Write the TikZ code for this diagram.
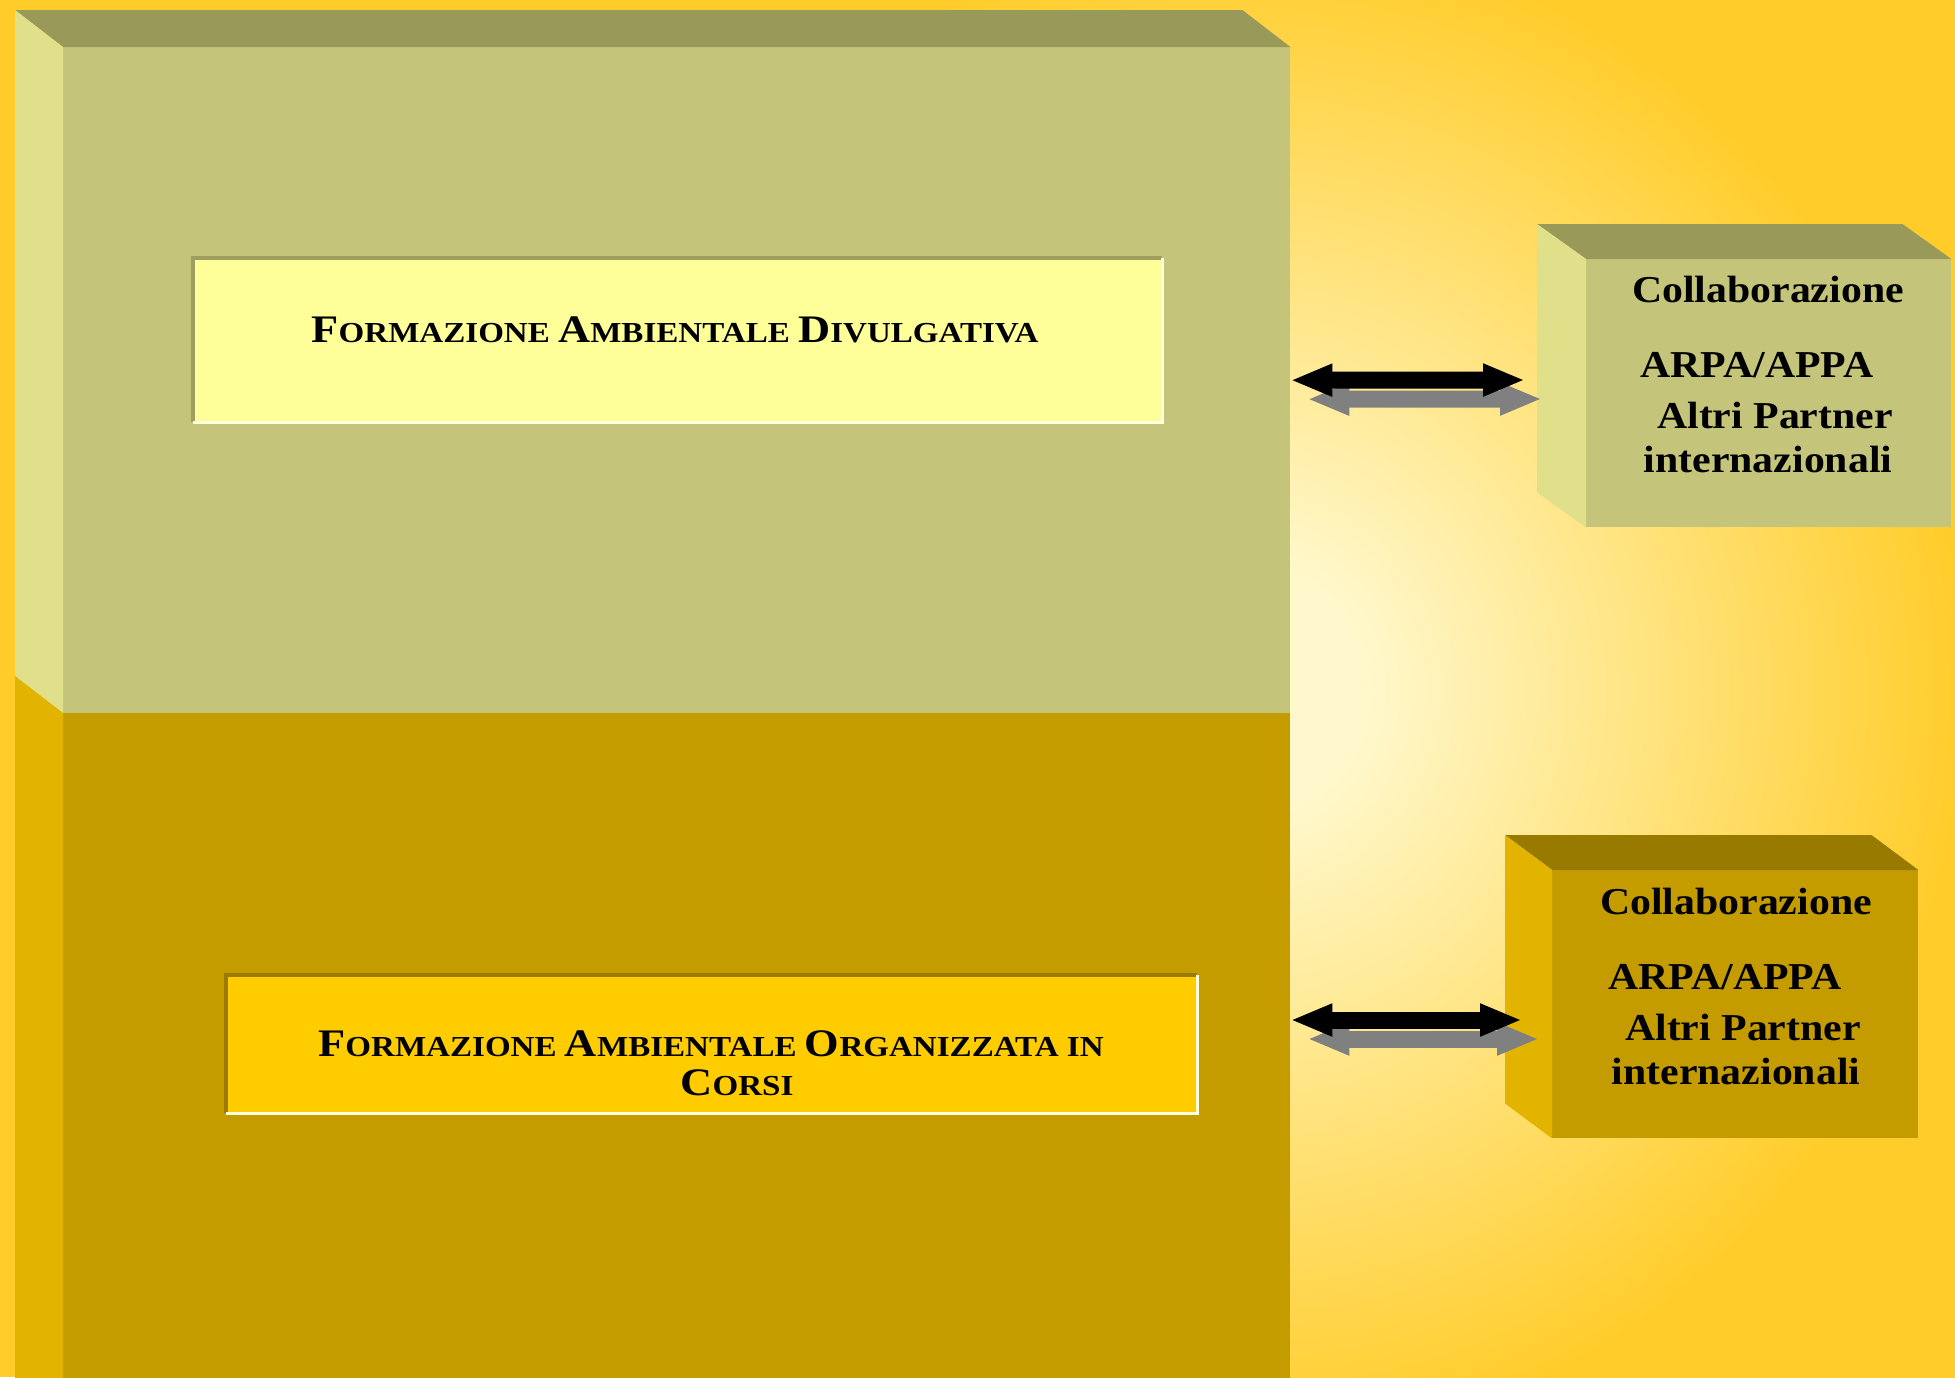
\documentclass[tikz,border=0pt]{standalone}
\usepackage{fontspec}
\setmainfont{Liberation Serif}[FakeStretch=1.1]
\newfontfamily\titlefont{Liberation Serif}[FakeStretch=1.14]
\usetikzlibrary{arrows.meta}
\definecolor{gold}{RGB}{255,204,41}
\definecolor{cream}{RGB}{255,248,204}
\definecolor{olivefront}{RGB}{196,196,122}
\definecolor{olivetop}{RGB}{153,153,89}
\definecolor{oliveside}{RGB}{224,224,138}
\definecolor{ochrefront}{RGB}{196,156,0}
\definecolor{ochretop}{RGB}{153,122,0}
\definecolor{ochreside}{RGB}{226,180,0}
\definecolor{paleyellow}{RGB}{255,255,153}
\definecolor{paleedge}{RGB}{158,158,94}
\definecolor{brightyellow}{RGB}{255,204,0}
\definecolor{brightedge}{RGB}{154,122,0}
\definecolor{lightedge}{RGB}{255,255,225}
\definecolor{shadowgray}{RGB}{128,128,128}
\pgfdeclareradialshading{bgglow}{\pgfpoint{0bp}{0bp}}{color(0bp)=(cream); color(4bp)=(cream); color(25bp)=(gold); color(50bp)=(gold)}
\newcommand\bigc[1]{{\fontsize{39}{39}\selectfont #1}}
\tikzset{
  frontface/.style={rectangle, draw=none, inner sep=0pt, anchor=north west},
  textbox/.style={rectangle, draw=none, inner sep=0pt, anchor=north west},
  titletext/.style={inner sep=0pt, align=center, text=black,
    font=\titlefont\bfseries\fontsize{29}{39}\selectfont},
  collabtext/.style={inner sep=0pt, align=center, text=black, anchor=north,
    font=\bfseries\fontsize{38}{44}\selectfont},
  linkarrow/.style={line width=17pt, {Triangle[length=42pt,width=30pt]}-{Triangle[length=42pt,width=30pt]}},
  blackarrow/.style={linkarrow, draw=black},
  grayarrow/.style={linkarrow, draw=shadowgray},
}
\begin{document}
\begin{tikzpicture}[x=1pt,y=-1pt]
\useasboundingbox (0,0) rectangle (1955,1377);
% background
\begin{scope}
  \clip (0,0) rectangle (1955,1377);
  \fill[gold] (0,0) rectangle (1955,1377);
  \shade[shading=bgglow] (530,-70) rectangle (1970,1450);
\end{scope}

% main block fronts
\node[frontface, fill=olivefront, minimum width=1227pt, minimum height=666pt] (upfront) at (63,47) {};
\node[frontface, fill=ochrefront, minimum width=1227pt, minimum height=680pt] (lowfront) at (63,713) {};
% top face
\fill[olivetop] (upfront.north west) -- ([shift={(-48,-37)}]upfront.north west)
  -- ([shift={(-48,-37)}]upfront.north east) -- (upfront.north east) -- cycle;
% left faces
\fill[oliveside] (upfront.north west) -- ([shift={(-48,-37)}]upfront.north west)
  -- ([shift={(-48,-37)}]upfront.south west) -- (upfront.south west) -- cycle;
\fill[ochreside] (lowfront.north west) -- ([shift={(-48,-37)}]lowfront.north west)
  -- ([shift={(-48,0)}]lowfront.south west) -- (lowfront.south west) -- cycle;

% inner text boxes
\node[textbox, fill=paleyellow, minimum width=969pt, minimum height=164pt] (divbox) at (193,258) {};
\draw[paleedge, line width=4pt] (divbox.south west) -- (divbox.north west) -- (divbox.north east);
\draw[lightedge, line width=3pt] (divbox.north east) -- (divbox.south east) -- (divbox.south west);
\node[titletext, anchor=base] (divtext) at (675,342)
  {\bigc{F}ORMAZIONE \bigc{A}MBIENTALE \bigc{D}IVULGATIVA};

\node[textbox, fill=brightyellow, minimum width=971pt, minimum height=138pt] (orgbox) at (226,975) {};
\draw[brightedge, line width=4pt] (orgbox.south west) -- (orgbox.north west) -- (orgbox.north east);
\draw[lightedge, line width=3pt] (orgbox.north east) -- (orgbox.south east) -- (orgbox.south west);
\node[titletext, anchor=north] (orgtext) at (711,1030)
  {\bigc{F}ORMAZIONE \bigc{A}MBIENTALE \bigc{O}RGANIZZATA IN\\ \hspace*{52pt}\bigc{C}ORSI};

% collaboration boxes
\node[frontface, fill=olivefront, minimum width=365pt, minimum height=268pt] (collabA) at (1586,259) {};
\fill[olivetop] (collabA.north west) -- ([shift={(-49,-35)}]collabA.north west)
  -- ([shift={(-49,-35)}]collabA.north east) -- (collabA.north east) -- cycle;
\fill[oliveside] (collabA.north west) -- ([shift={(-49,-35)}]collabA.north west)
  -- ([shift={(-49,-35)}]collabA.south west) -- (collabA.south west) -- cycle;
\node[collabtext] (collabAtext) at (1768,276)
  {Collaborazione\\[31pt]\hspace*{-22pt}ARPA/APPA\\[7pt]\hspace*{14pt}Altri Partner\\internazionali};

\node[frontface, fill=ochrefront, minimum width=366pt, minimum height=268pt] (collabB) at (1552,870) {};
\fill[ochretop] (collabB.north west) -- ([shift={(-47,-35)}]collabB.north west)
  -- ([shift={(-47,-35)}]collabB.north east) -- (collabB.north east) -- cycle;
\fill[ochreside] (collabB.north west) -- ([shift={(-47,-35)}]collabB.north west)
  -- ([shift={(-47,-35)}]collabB.south west) -- (collabB.south west) -- cycle;
\node[collabtext] (collabBtext) at (1736,888)
  {Collaborazione\\[31pt]\hspace*{-22pt}ARPA/APPA\\[7pt]\hspace*{14pt}Altri Partner\\internazionali};

% connectors
\coordinate (aEnd) at (1525,380);
\coordinate (bEnd) at (1522,1020);
\draw[grayarrow] ([shift={(17,19)}]upfront.east) -- ([shift={(17,19)}]aEnd);
\draw[blackarrow] (upfront.east) -- (aEnd);
\draw[grayarrow] ([shift={(17,19)}]lowfront.east |- bEnd) -- ([shift={(17,19)}]bEnd);
\draw[blackarrow] (lowfront.east |- bEnd) -- (bEnd);
\end{tikzpicture}
\end{document}
